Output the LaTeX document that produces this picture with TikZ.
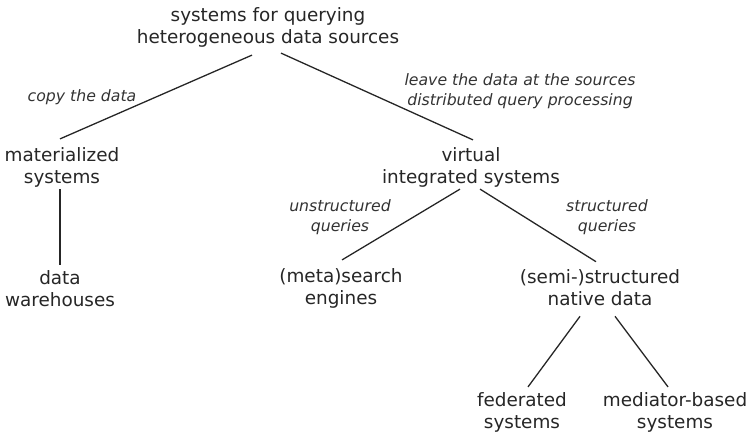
\documentclass[tikz,border=0pt]{standalone}
\usepackage{fontspec}
\setmainfont{DejaVu Sans}

\begin{document}
\begin{tikzpicture}
[
	x=1pt,
	y=-1pt,
	sys/.style={align=center,font=\fontsize{18.4}{22}\selectfont,inner sep=0pt,text=black!85},
	how/.style={align=center,font=\fontsize{15.7}{20}\selectfont\itshape,inner sep=0pt,text=black!80},
	edge/.style={line width=1.3pt,draw=black!85}
]

	\useasboundingbox (0,0) rectangle (746,432);

	% system kinds
	\node[sys] (root) at (268,27) {systems for querying\\heterogeneous data sources};
	\node[sys] (mat) at (62,167) {materialized\\systems};
	\node[sys] (wh) at (60,289) {data\\warehouses};
	\node[sys] (virt) at (471,167) {virtual\\integrated systems};
	\node[sys] (meta) at (341,288) {(meta)search\\engines};
	\node[sys] (semi) at (600,288) {(semi-)structured\\native data};
	\node[sys] (fed) at (522,412) {federated\\systems};
	\node[sys] (med) at (675,412) {mediator-based\\systems};

	% edge labels
	\node[how] (copy) at (82,97) {copy the data};
	\node[how] (leave) at (520,91) {leave the data at the sources\\distributed query processing};
	\node[how] (unstr) at (340,217) {unstructured\\queries};
	\node[how] (str) at (607,217) {structured\\queries};

	% tree edges
	\draw[edge] ([xshift=-16pt,yshift=-8pt]root.south) -- ([xshift=-2pt,yshift=8pt]mat.north);
	\draw[edge] ([xshift=13pt,yshift=-6pt]root.south) -- ([xshift=2pt,yshift=7pt]virt.north);
	\draw[edge] ([xshift=-2pt,yshift=-2pt]mat.south) -- ([yshift=6pt]wh.north);
	\draw[edge] ([xshift=-11pt,yshift=-2pt]virt.south) -- ([xshift=1pt,yshift=8pt]meta.north);
	\draw[edge] ([xshift=9pt,yshift=-2pt]virt.south) -- ([xshift=-4pt,yshift=8pt]semi.north);
	\draw[edge] ([xshift=-20pt,yshift=-10pt]semi.south) -- ([xshift=6pt,yshift=5pt]fed.north);
	\draw[edge] ([xshift=15pt,yshift=-10pt]semi.south) -- ([xshift=-7pt,yshift=5pt]med.north);

\end{tikzpicture}
\end{document}
